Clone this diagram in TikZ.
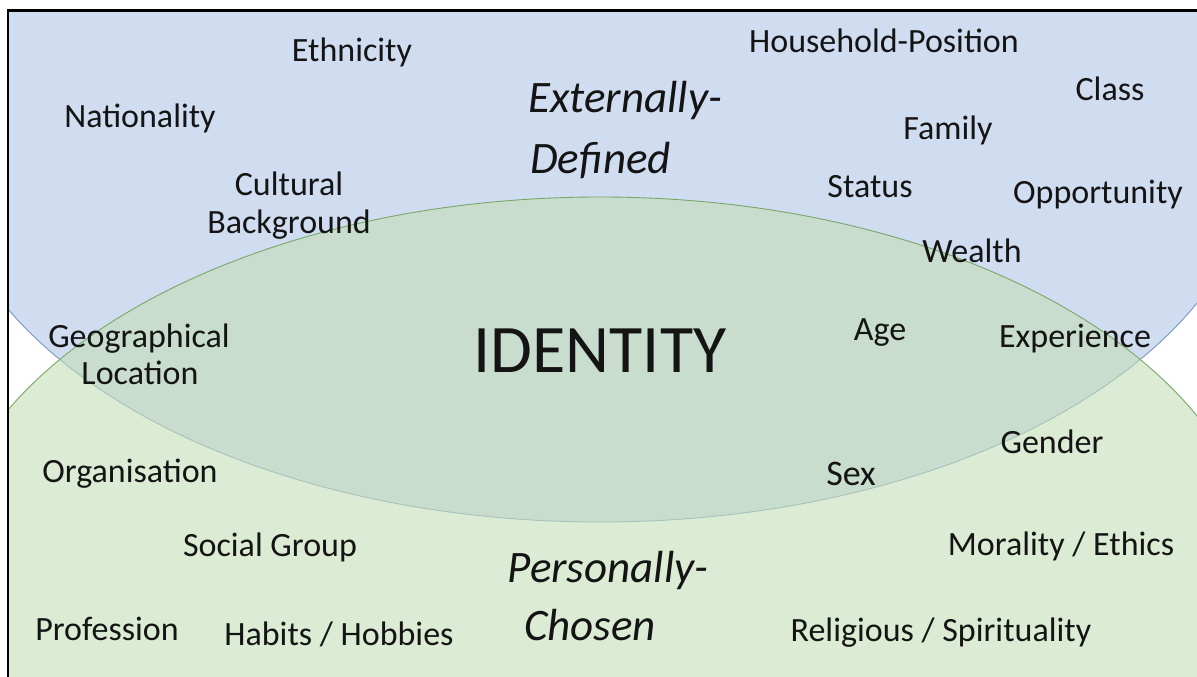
\documentclass[tikz,border=0pt]{standalone}
\usepackage{fontspec}
\setmainfont{Carlito}
\pgfdeclarelayer{bg}
\pgfsetlayers{bg,main}
\definecolor{extfill}{RGB}{208,220,240}
\definecolor{extline}{RGB}{120,152,198}
\definecolor{perfill}{RGB}{196,222,182}
\definecolor{perline}{RGB}{120,168,104}
\tikzset{
    every node/.style={inner sep=0mm, anchor=base, text=black!92, font=\fontsize{34}{40}\selectfont}
}
\tikzset{side/.style={font=\fontsize{45}{52}\selectfont\itshape}}

\begin{document}
\begin{tikzpicture}[x=1pt, y=-1pt]
    \useasboundingbox (0,0) rectangle (1197,677);
    \begin{pgfonlayer}{bg}
        \begin{scope}
            \clip (8,10.5) rectangle (1197,677);
            \filldraw[fill=extfill, draw=extline, line width=0.9pt] (600,140) ellipse [x radius=660pt, y radius=382pt];
            \filldraw[fill=perfill, fill opacity=0.6, draw=perline, line width=0.9pt] (600,579) ellipse [x radius=660pt, y radius=382pt];
        \end{scope}
        \draw[line width=2.5pt] (8,700) -- (8,10.5) -- (1230,10.5);
    \end{pgfonlayer}

    \node (id) [font=\fontsize{68}{76}\selectfont] at (600,372) {IDENTITY};

    \node (ext1) [side, anchor=base west] at (528,112) {Externally-};
    \node (ext2) [side, anchor=base west] at (530,173) {Defined};
    \node (per1) [side] at (608,582) {Personally-};
    \node (per2) [side] at (590,640) {Chosen};

    \node (eth) at (352,62) {Ethnicity};
    \node (nat) at (140,128) {Nationality};
    \node (cul1) at (289,195) {Cultural};
    \node (cul2) at (289,233) {Background};
    \node (hhp) at (884,53) {Household-Position};
    \node (cls) at (1110,100) {Class};
    \node (fam) at (948,139) {Family};
    \node (sta) at (870,197) {Status};
    \node (opp) at (1098,203) {Opportunity};
    \node (wea) at (972,262) {Wealth};
    \node (geo1) at (139,347) {Geographical};
    \node (geo2) at (140,384) {Location};
    \node (age) at (880,340) {Age};
    \node (exp) at (1075,347) {Experience};
    \node (gen) at (1052,453) {Gender};
    \node (sex) [font=\fontsize{36}{42}\selectfont] at (851,485) {Sex};
    \node (org) at (130,482) {Organisation};
    \node (soc) at (270,556) {Social Group};
    \node (mor) at (1061,555) {Morality / Ethics};
    \node (pro) at (107,640) {Profession};
    \node (hab) at (339,645) {Habits / Hobbies};
    \node (rel) at (941,641) {Religious / Spirituality};
\end{tikzpicture}
\end{document}
